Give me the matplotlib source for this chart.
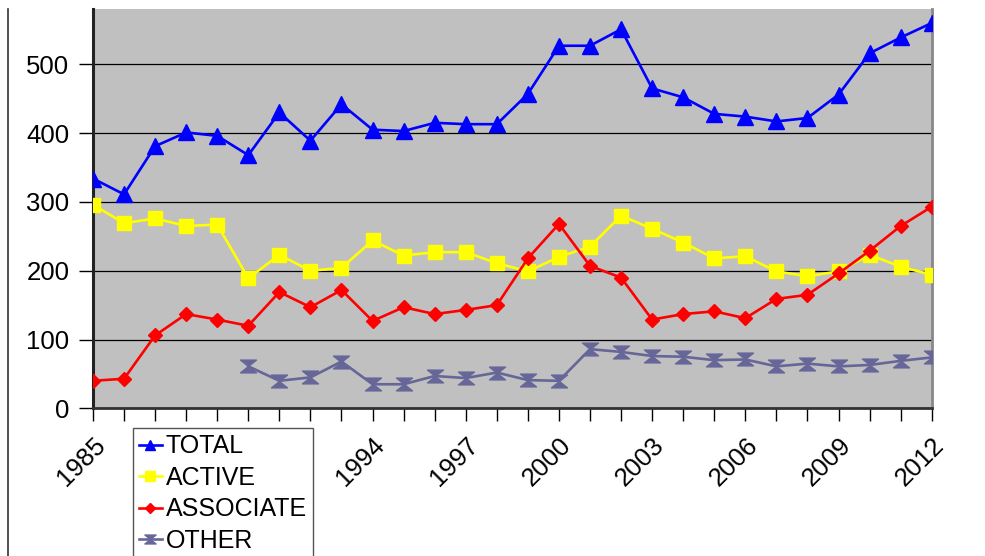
import matplotlib
matplotlib.use("Agg")
import matplotlib.pyplot as plt
from matplotlib.path import Path
from matplotlib.lines import Line2D

plt.rcParams['font.family'] = ['Liberation Sans', 'DejaVu Sans']

years = list(range(1985, 2013))
total = [334, 311, 381, 401, 396, 368, 430, 389, 442, 405, 403, 415, 413, 413,
         457, 527, 527, 551, 465, 452, 428, 424, 417, 422, 456, 516, 539, 560]
active = [296, 269, 276, 265, 267, 189, 223, 200, 204, 244, 222, 227, 227, 211,
          199, 220, 235, 280, 261, 241, 218, 221, 199, 192, 199, 223, 206, 194]
associate = [40, 43, 106, 137, 129, 120, 169, 147, 172, 127, 147, 137, 143, 150,
             218, 268, 207, 190, 129, 137, 141, 131, 159, 165, 196, 229, 265, 293]
other_years = list(range(1990, 2013))
other = [61, 40, 45, 68, 35, 35, 47, 44, 52, 41, 40, 86, 82, 76, 75, 70, 71,
         61, 65, 61, 63, 69, 74]

label_years = [1985, 1988, 1991, 1994, 1997, 2000, 2003, 2006, 2009, 2012]

# hourglass marker like the old spreadsheet one
hourglass = Path([(-1, 0.8), (1, 0.8), (0, 0), (1, -0.8), (-1, -0.8), (0, 0), (-1, 0.8)],
                 [Path.MOVETO, Path.LINETO, Path.LINETO, Path.LINETO,
                  Path.LINETO, Path.LINETO, Path.CLOSEPOLY])

fig = plt.figure(figsize=(9.85, 5.56), dpi=100)
ax = fig.add_axes([0.0944, 0.2656, 0.8515, 0.7177])
ax.set_facecolor('#c0c0c0')

ax.plot(years, total, color='#0000ff', lw=1.9, marker='^', ms=11, label='TOTAL', zorder=5)
ax.plot(years, active, color='#ffff00', lw=1.9, marker='s', ms=9.5, label='ACTIVE', zorder=4)
ax.plot(years, associate, color='#ff0000', lw=1.9, marker='D', ms=7, label='ASSOCIATE', zorder=4)
ax.plot(other_years, other, color='#666699', lw=1.9, marker=hourglass, ms=11.5,
        label='OTHER', zorder=4)

ax.set_xlim(1985, 2012)
ax.set_ylim(0, 580)
ax.set_yticks([0, 100, 200, 300, 400, 500])
ax.set_xticks(years, minor=True)
ax.set_xticks(label_years)
ax.set_xticklabels([str(y) for y in label_years], rotation=45, ha='right',
                   rotation_mode='anchor', fontsize=18.5)
ax.tick_params(axis='y', labelsize=18.5, length=10, width=1, direction='out', pad=7)
ax.tick_params(axis='x', which='both', length=9, width=1, direction='out', pad=9)
ax.tick_params(axis='x', which='minor', labelbottom=False)
ax.yaxis.grid(True, color='black', lw=0.9)
ax.set_axisbelow(True)

ax.spines['top'].set_visible(False)
ax.spines['left'].set_linewidth(2.2)
ax.spines['left'].set_color('#222222')
ax.spines['bottom'].set_linewidth(2)
ax.spines['bottom'].set_color('#333333')
ax.spines['right'].set_linewidth(2)
ax.spines['right'].set_color('#888888')

leg = fig.legend(loc='upper left', bbox_to_anchor=(0.135, 0.23), frameon=True,
                 fancybox=False, edgecolor='#555555', framealpha=1, fontsize=18,
                 handlelength=0.9, handletextpad=0.15, labelspacing=0.3,
                 borderpad=0.25, borderaxespad=0, markerscale=0.7)
leg.get_frame().set_linewidth(1)

# left frame line of the original picture
fig.add_artist(Line2D([0.0081, 0.0081], [0, 0.984], color='#333333', lw=1.2))

fig.savefig('out.png', dpi=100)
